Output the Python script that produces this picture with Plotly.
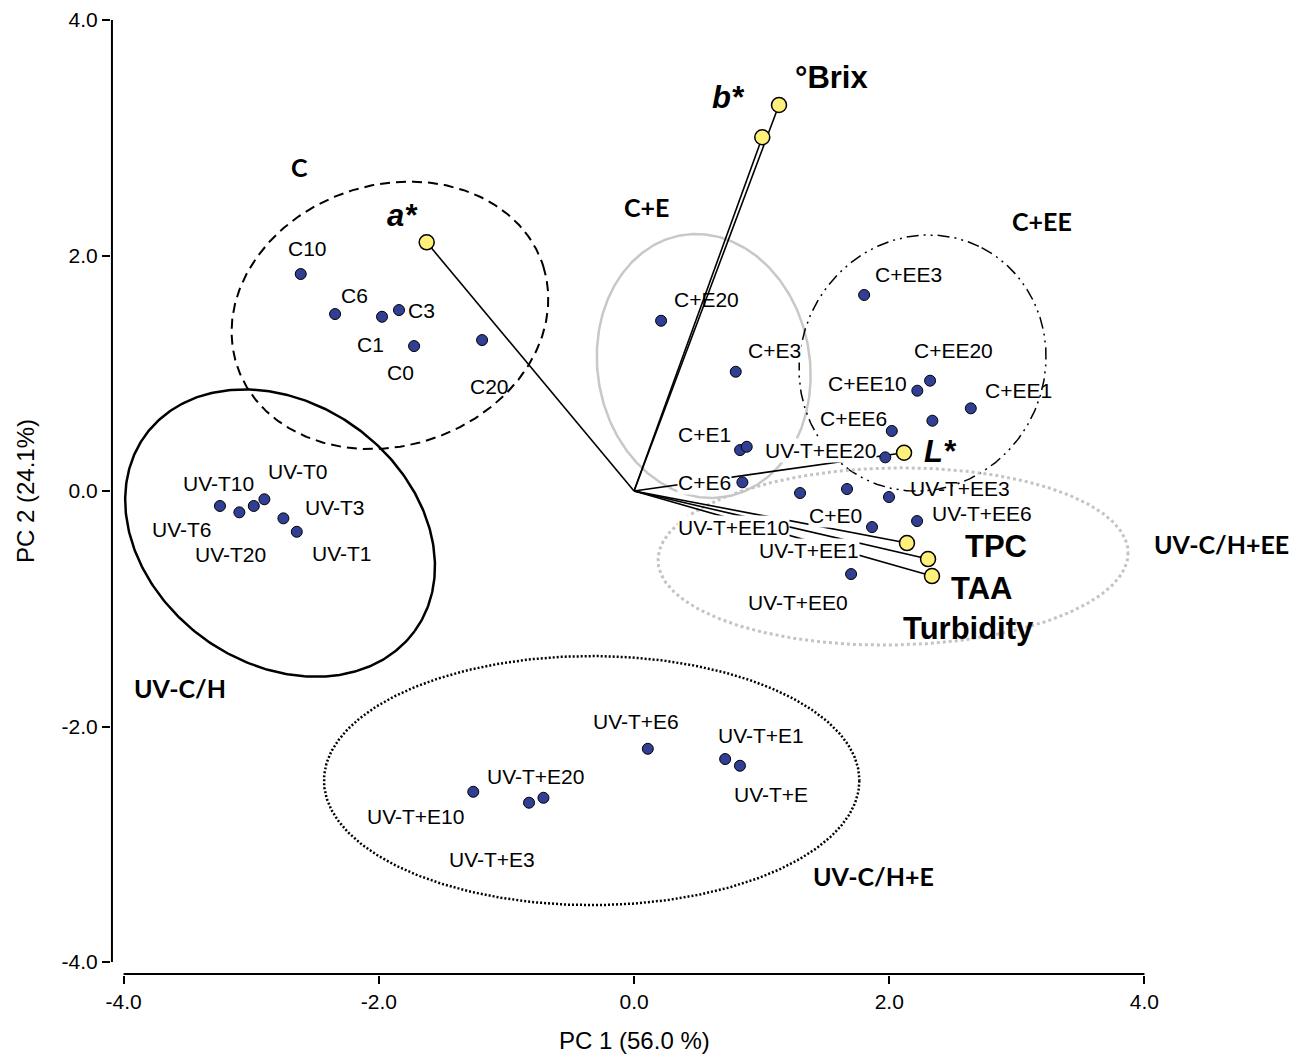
import numpy as np
import plotly.graph_objects as go

# ---------------- data ----------------
# Sample scores (PC1, PC2)
SAMPLE_X = [-2.612, -2.343, -1.975, -1.842, -1.724, -1.191,
            -3.245, -3.093, -2.980, -2.897, -2.748, -2.643,
            0.212, 0.797, 0.831, 0.883, 0.849,
            1.803, 2.320, 2.220, 2.639, 2.338, 2.020, 1.969,
            1.301, 1.669, 1.998, 2.218, 1.865, 1.701,
            0.108, 0.714, 0.830, -1.260, -0.823, -0.710]
SAMPLE_Y = [1.843, 1.503, 1.480, 1.537, 1.231, 1.282,
            -0.127, -0.181, -0.127, -0.070, -0.232, -0.346,
            1.446, 1.013, 0.348, 0.376, 0.074,
            1.665, 0.937, 0.852, 0.702, 0.597, 0.510, 0.286,
            -0.017, 0.017, -0.051, -0.255, -0.306, -0.705,
            -2.189, -2.276, -2.333, -2.554, -2.647, -2.605]

# Sample label texts and their anchor coordinates
SAMPLE_LABELS = ["C10", "C6", "C3", "C1", "C0", "C20",
                 "UV-T10", "UV-T0", "UV-T3", "UV-T6", "UV-T20", "UV-T1",
                 "C+E20", "C+E3", "C+E1", "C+E6",
                 "C+EE3", "C+EE20", "C+EE10", "C+EE1", "C+EE6", "UV-T+EE20",
                 "UV-T+EE3", "UV-T+EE6", "C+E0", "UV-T+EE10", "UV-T+EE1", "UV-T+EE0",
                 "UV-T+E6", "UV-T+E1", "UV-T+E", "UV-T+E20", "UV-T+E10", "UV-T+E3"]
SAMPLE_LABEL_X = [-2.560, -2.194, -1.664, -2.069, -1.834, -1.129,
                  -3.260, -2.633, -2.343, -3.542, -3.166, -2.288,
                  0.564, 1.100, 0.556, 0.556,
                  2.150, 2.502, 1.828, 3.012, 1.719, 1.463,
                  2.555, 2.725, 1.575, 0.778, 1.374, 1.288,
                  0.013, 0.992, 1.071, -0.776, -1.713, -1.110]
SAMPLE_LABEL_Y = [2.061, 1.659, 1.531, 1.246, 1.008, 0.886,
                  0.068, 0.170, -0.136, -0.323, -0.535, -0.527,
                  1.628, 1.197, 0.476, 0.070,
                  1.843, 1.197, 0.909, 0.852, 0.617, 0.348,
                  0.023, -0.195, -0.212, -0.308, -0.507, -0.945,
                  -1.959, -2.072, -2.573, -2.426, -2.766, -3.125]
MASKED_LABELS = ["C+E3", "C+E6", "UV-T+EE20", "C+E0", "UV-T+EE10", "UV-T+EE1"]

# Variable loadings
VAR_NAMES = ["a*", "b*", "°Brix", "L*", "Turbidity", "TPC", "TAA"]
VAR_X = [-1.625, 1.005, 1.136, 2.116, 2.139, 2.304, 2.335]
VAR_Y = [2.112, 3.004, 3.278, 0.325, -0.442, -0.578, -0.722]

VAR_LABELS = ["<b><i>a*</i></b>", "<b><i>b*</i></b>", "<b>°Brix</b>", "<b><i>L*</i></b>",
              "<b>TPC</b>", "<b>TAA</b>", "<b>Turbidity</b>"]
VAR_LABEL_X = [-1.813, 0.739, 1.549, 2.398, 2.837, 2.725, 2.620]
VAR_LABEL_Y = [2.344, 3.340, 3.513, 0.334, -0.473, -0.826, -1.166]

# Groups and their ellipses
GROUP_NAMES = ["C", "C+E", "C+EE", "UV-C/H+EE", "UV-C/H", "UV-C/H+E"]
GROUP_LABEL_X = [-2.618, 0.100, 3.195, 4.606, -3.558, 1.873]
GROUP_LABEL_Y = [2.754, 2.414, 2.296, -0.450, -1.673, -3.270]

ELLIPSE_GROUPS = ["C", "UV-C/H", "C+E", "C+EE", "UV-C/H+EE", "UV-C/H+E"]
ELLIPSE_CX = [-1.913, -2.774, 0.546, 2.261, 2.030, -0.332]
ELLIPSE_CY = [1.492, -0.357, 1.062, 1.087, -0.556, -2.459]
ELLIPSE_A = [1.262, 1.305, 1.039, 1.016, 1.842, 2.098]
ELLIPSE_B = [1.023, 1.019, 0.832, 0.955, 0.694, 0.976]
ELLIPSE_ANGLE = [-18, 36, 80.75, -62.9, -1, 0]

X_TICKS = [-4, -2, 0, 2, 4]
X_TICKTEXT = ["-4.0", "-2.0", "0.0", "2.0", "4.0"]
Y_TICKS = [-4, -2, 0, 2, 4]
Y_TICKTEXT = ["-4.0", "-2.0", "0.0", "2.0", "4.0"]

# ---------------- layout geometry ----------------
W, H = 1306, 1056
ML, MR, MT, MB = 111, 6, 10, 81
XR = [-4.099, 5.219]
YR = [-4.110, 4.085]
PX_X = (W - ML - MR) / (XR[1] - XR[0])
PX_Y = (H - MT - MB) / (YR[1] - YR[0])

ELLIPSE_STYLE = {
    "C": dict(color="black", width=2, dash="10px,6px"),
    "UV-C/H": dict(color="black", width=2.5, dash="solid"),
    "C+E": dict(color="#c8c8c8", width=2.5, dash="solid"),
    "C+EE": dict(color="black", width=1.5, dash="12px,5px,2px,5px,2px,5px"),
    "UV-C/H+EE": dict(color="#c4c4c4", width=3, dash="3px,3px"),
    "UV-C/H+E": dict(color="black", width=2.5, dash="2px,2px"),
}

SANS = "Liberation Sans, Arial, sans-serif"
GROUP_FONT = "Lato, Open Sans, sans-serif"

fig = go.Figure()

# ellipses
t = np.linspace(0, 2 * np.pi, 400)
for g, cx, cy, a, b, ang in zip(ELLIPSE_GROUPS, ELLIPSE_CX, ELLIPSE_CY,
                                ELLIPSE_A, ELLIPSE_B, ELLIPSE_ANGLE):
    th = np.deg2rad(ang)
    dx = a * np.cos(t) * np.cos(th) - b * np.sin(t) * np.sin(th)
    dy_down = a * np.cos(t) * np.sin(th) + b * np.sin(t) * np.cos(th)
    ex = cx + dx
    ey = cy - dy_down * PX_X / PX_Y
    fig.add_trace(go.Scatter(x=ex, y=ey, mode="lines", line=ELLIPSE_STYLE[g],
                             hoverinfo="skip", showlegend=False))

# loading vectors from origin
lx, ly = [], []
for vx, vy in zip(VAR_X, VAR_Y):
    lx += [0, vx, None]
    ly += [0, vy, None]
fig.add_trace(go.Scatter(x=lx, y=ly, mode="lines",
                         line=dict(color="black", width=1.6),
                         hoverinfo="skip", showlegend=False))

# sample points
fig.add_trace(go.Scatter(x=SAMPLE_X, y=SAMPLE_Y, mode="markers",
                         marker=dict(size=11, color="#303f94",
                                     line=dict(color="black", width=1)),
                         showlegend=False))

# variable points
fig.add_trace(go.Scatter(x=VAR_X, y=VAR_Y, mode="markers", text=VAR_NAMES,
                         marker=dict(size=15, color="#fff07c",
                                     line=dict(color="black", width=1.5)),
                         showlegend=False))

annotations = []
for txt, x, y in zip(SAMPLE_LABELS, SAMPLE_LABEL_X, SAMPLE_LABEL_Y):
    annotations.append(dict(x=x, y=y, text=txt, showarrow=False,
                            xanchor="center", yanchor="middle",
                            font=dict(family=SANS, size=21, color="black"),
                            bgcolor="white" if txt in MASKED_LABELS else "rgba(0,0,0,0)",
                            borderpad=0))
for txt, x, y in zip(VAR_LABELS, VAR_LABEL_X, VAR_LABEL_Y):
    annotations.append(dict(x=x, y=y, text=txt, showarrow=False,
                            xanchor="center", yanchor="middle",
                            font=dict(family=SANS, size=31, color="black")))
for txt, x, y in zip(GROUP_NAMES, GROUP_LABEL_X, GROUP_LABEL_Y):
    annotations.append(dict(x=x, y=y, text="<b>" + txt + "</b>", showarrow=False,
                            xanchor="center", yanchor="middle",
                            font=dict(family=GROUP_FONT, size=25, color="black")))

# axis titles
annotations.append(dict(x=0, xref="x", y=(975 - 1040) / (H - MT - MB), yref="paper",
                        text="PC 1 (56.0 %)", showarrow=False,
                        xanchor="center", yanchor="middle",
                        font=dict(family=SANS, size=24, color="black")))
annotations.append(dict(x=(25 - ML) / (W - ML - MR), xref="paper", y=0, yref="y",
                        text="PC 2 (24.1%)", showarrow=False, textangle=-90,
                        xanchor="center", yanchor="middle",
                        font=dict(family=SANS, size=24, color="black")))

shapes = [
    dict(type="line", xref="paper", yref="y", x0=0.0008, x1=0.0008, y0=-4, y1=4,
         line=dict(color="black", width=2)),
    dict(type="line", xref="x", yref="paper", x0=-4, x1=4, y0=0.001, y1=0.001,
         line=dict(color="black", width=2)),
]

fig.update_layout(
    width=W, height=H,
    margin=dict(l=ML, r=MR, t=MT, b=MB),
    paper_bgcolor="white", plot_bgcolor="white",
    annotations=annotations, shapes=shapes,
    hovermode=False,
    xaxis=dict(range=XR, showgrid=False, zeroline=False, showline=False,
               tickvals=X_TICKS, ticktext=X_TICKTEXT, ticks="outside",
               ticklen=8, tickwidth=2, tickcolor="black", automargin=False,
               tickfont=dict(family=SANS, size=21, color="black")),
    yaxis=dict(range=YR, showgrid=False, zeroline=False, showline=False,
               tickvals=Y_TICKS, ticktext=Y_TICKTEXT, ticks="outside",
               ticklen=8, tickwidth=2, tickcolor="black", automargin=False,
               tickfont=dict(family=SANS, size=21, color="black")),
)

fig.write_html("out.html",
               config={"displayModeBar": False},
               post_script="document.body.style.margin='0px';"
                           "document.body.style.overflow='hidden';")
